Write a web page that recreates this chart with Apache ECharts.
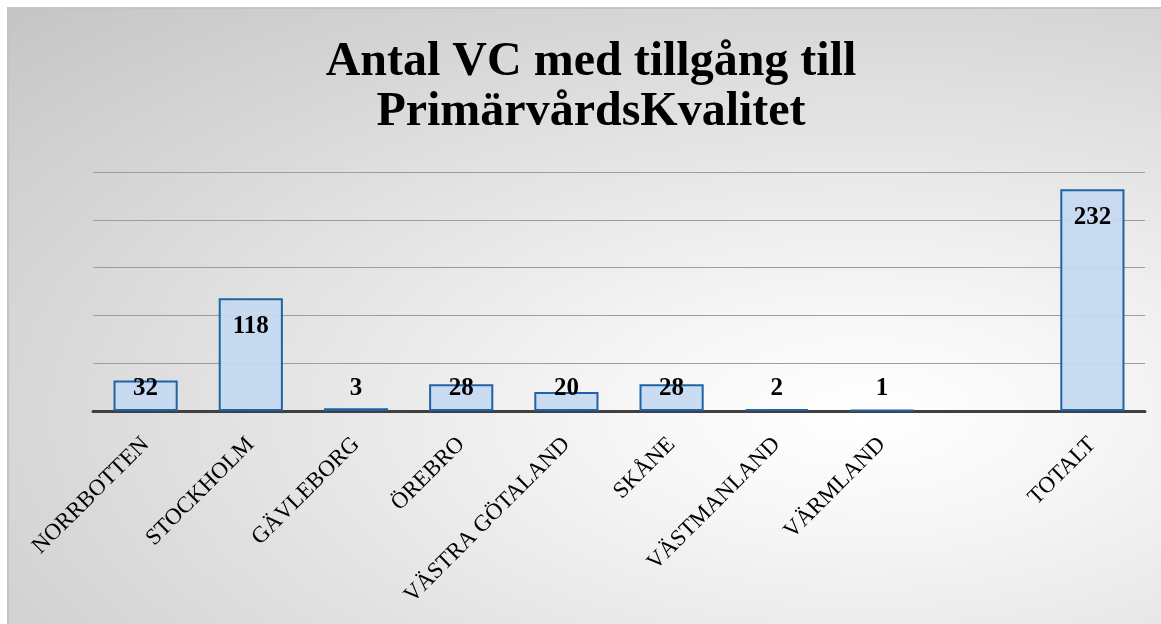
<!DOCTYPE html>
<html>
<head>
<meta charset="utf-8">
<script src="https://cdn.jsdelivr.net/npm/echarts@6/dist/echarts.min.js"></script>
<style>
  html, body { margin: 0; padding: 0; background: #ffffff; }
  #bg {
    position: absolute; left: 7px; top: 7px; width: 1154px; height: 617px;
    border-top: 2px solid #c4c4c4; border-left: 2px solid #c4c4c4;
    box-sizing: border-box;
    background: radial-gradient(ellipse farthest-corner at 74% 66%, #ffffff 0%, #f6f6f6 20%, #c5c5c5 100%);
  }
  #chart { position: absolute; left: 0; top: 0; width: 1161px; height: 624px; }
</style>
</head>
<body>
<div id="bg"></div>
<div id="chart"></div>
<script>
const titleLines = ['Antal VC med tillgång till', 'PrimärvårdsKvalitet'];
const categories = ['NORRBOTTEN', 'STOCKHOLM', 'GÄVLEBORG', 'ÖREBRO', 'VÄSTRA GÖTALAND', 'SKÅNE', 'VÄSTMANLAND', 'VÄRMLAND', '', 'TOTALT'];
const values = [32, 118, 3, 28, 20, 28, 2, 1, null, 232];
const yTicks = [0, 50, 100, 150, 200, 250];

const serif = '"Liberation Serif", "Times New Roman", serif';

const seriesData = values.map(v => {
  if (v === null) return '-';
  const tall = v > 50;
  return {
    value: v,
    label: tall
      ? { position: 'insideTop', distance: 16 }
      : { position: 'insideBottom', distance: 10 }
  };
});

const chart = echarts.init(document.getElementById('chart'), null, { renderer: 'canvas' });
chart.setOption({
  backgroundColor: 'transparent',
  animation: false,
  title: {
    text: titleLines.join('\n'),
    left: 591,
    textAlign: 'center',
    top: 38,
    padding: 0,
    textStyle: {
      fontFamily: serif,
      fontWeight: 'bold',
      fontSize: 48,
      lineHeight: 50,
      color: '#000000'
    }
  },
  grid: { left: 93, right: 16, top: 172, bottom: 213, containLabel: false },
  xAxis: {
    type: 'category',
    data: categories,
    axisLine: { show: true, lineStyle: { color: '#404040', width: 3 } },
    axisTick: { show: false },
    axisLabel: {
      interval: 0,
      rotate: 45,
      margin: 30,
      fontFamily: serif,
      fontSize: 23,
      color: '#000000'
    }
  },
  yAxis: {
    type: 'value',
    min: yTicks[0],
    max: yTicks[yTicks.length - 1],
    interval: 50,
    axisLine: { show: false },
    axisTick: { show: false },
    axisLabel: { show: false },
    splitLine: { show: true, lineStyle: { color: '#9d9d9d', width: 1 } }
  },
  series: [{
    type: 'bar',
    data: seriesData,
    barWidth: '61%',
    itemStyle: {
      color: 'rgba(197, 217, 241, 0.92)',
      borderColor: '#1f62a6',
      borderWidth: 2
    },
    label: {
      show: true,
      fontFamily: serif,
      fontWeight: 'bold',
      fontSize: 25,
      color: '#000000'
    }
  }]
});
</script>
</body>
</html>
